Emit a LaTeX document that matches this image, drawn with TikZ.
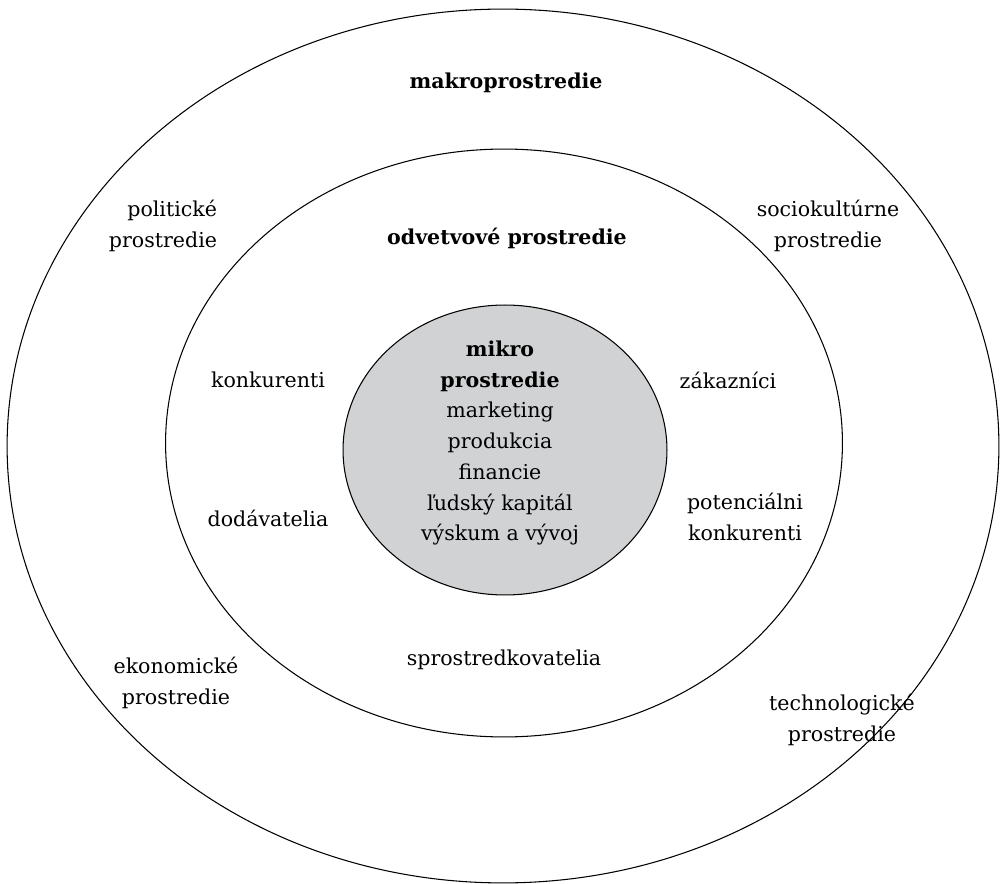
\documentclass[tikz,border=0pt]{standalone}
\usepackage{fontspec}
\setmainfont{DejaVu Serif}
\usetikzlibrary{shapes.geometric}
\definecolor{microgray}{RGB}{209,210,212}

\begin{document}
\begin{tikzpicture}[x=0.02cm,y=-0.02cm,
        ring/.style={ellipse,draw,line width=0.6pt,inner sep=0pt},
        label node/.style={align=center,font=\fontsize{11.7}{17.5}\selectfont},
        title node/.style={label node,font=\fontsize{11.7}{17.5}\selectfont\bfseries}]
        \useasboundingbox (0,0) rectangle (1000,884);

        \node[ring,minimum width=19.84cm,minimum height=17.48cm] (makro) at (503,446) {};
        \node[ring,minimum width=13.54cm,minimum height=11.76cm] (odvetvie) at (504,443) {};
        \node[ring,fill=microgray,minimum width=6.48cm,minimum height=5.8cm] (mikro) at (505,450) {};

        \node[title node] (t1) at (506,83) {makroprostredie};
        \node[title node] (t2) at (507,238) {odvetvové prostredie};

        \node[label node,align=right] (pol) at (163,226) {politické\\prostredie};
        \node[label node] (soc) at (828,226) {sociokultúrne\\prostredie};
        \node[label node] (eko) at (176,683) {ekonomické\\prostredie};
        \node[label node] (tech) at (842,720) {technologické\\prostredie};

        \node[label node] (konk) at (268,380) {konkurenti};
        \node[label node] (zak) at (728,380) {zákazníci};
        \node[label node] (dod) at (268,518) {dodávatelia};
        \node[label node] (pot) at (745,517) {potenciálni\\konkurenti};
        \node[label node] (spr) at (504,660) {sprostredkovatelia};

        \node[label node] (inner) at (500,443) {\textbf{mikro}\\\textbf{prostredie}\\marketing\\produkcia\\financie\\ľudský kapitál\\výskum a vývoj};
      \end{tikzpicture}
\end{document}
